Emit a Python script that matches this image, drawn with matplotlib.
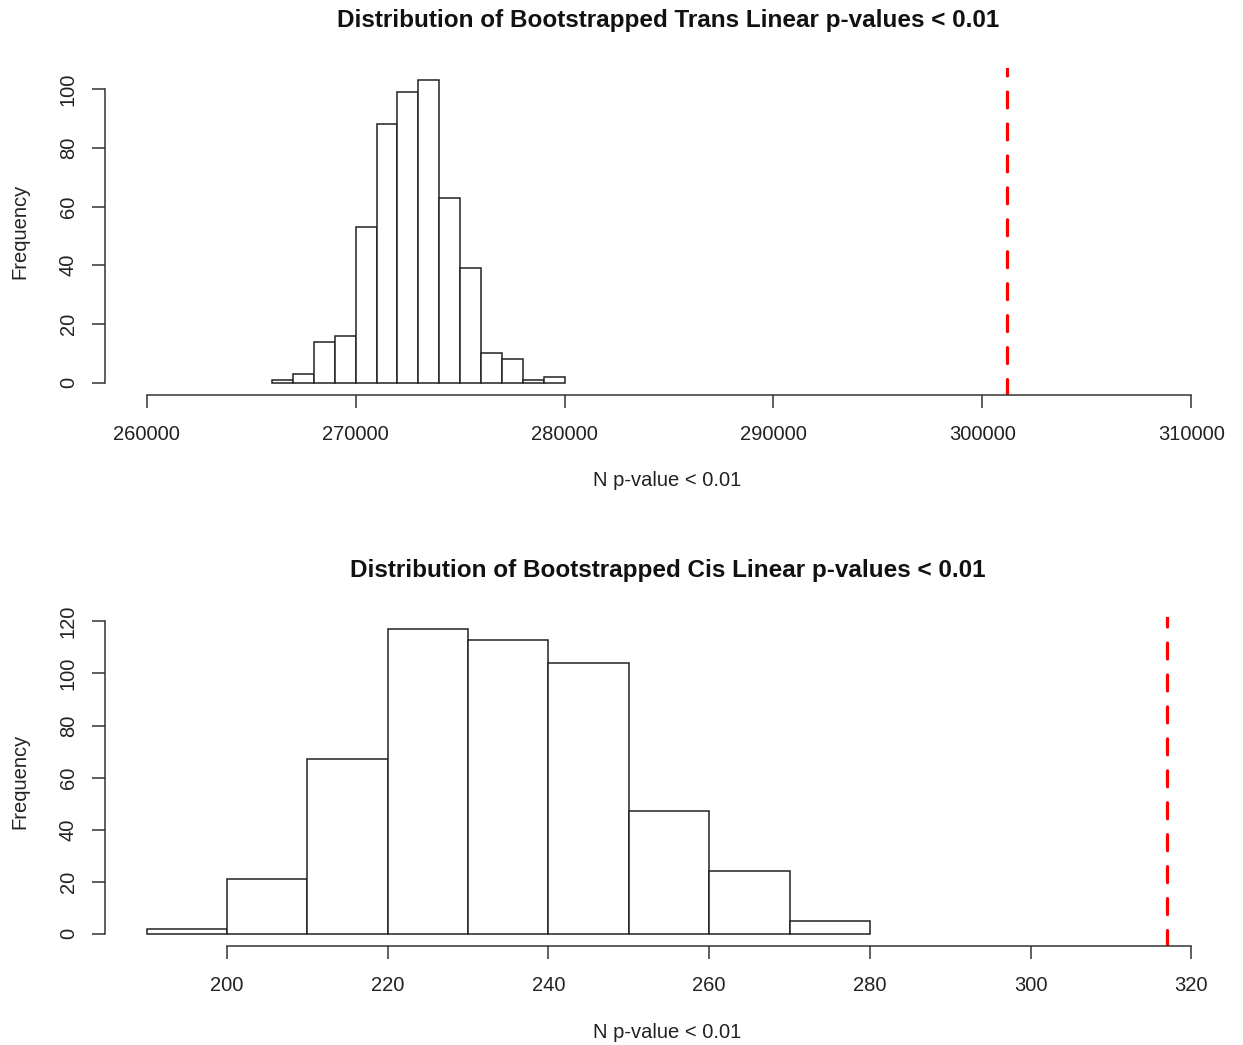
import numpy as np
import matplotlib.pyplot as plt

plt.rcParams['font.family'] = ['Liberation Sans', 'DejaVu Sans']

# bootstrapped counts, trans (bin width 1000)
trans_edges = np.arange(266000, 280001, 1000)
trans_counts = [1, 3, 14, 16, 53, 88, 99, 103, 63, 39, 10, 8, 1, 2]
trans_obs = 301200

# bootstrapped counts, cis (bin width 10)
cis_edges = np.arange(190, 281, 10)
cis_counts = [2, 21, 67, 117, 113, 104, 47, 24, 5]
cis_obs = 317

W, H = 1243, 1045
fig = plt.figure(figsize=(W / 100, H / 100), dpi=100)


def panel(top, bottom, edges, counts, obs, xlim, ylim, xticks, yticks, title, title_y):
    h = bottom - top
    ax = fig.add_axes([105 / W, 1 - bottom / H, 1128 / W, h / H])
    widths = np.diff(edges)
    ax.bar(edges[:-1], counts, width=widths, align='edge', color='white',
           edgecolor='#222222', linewidth=1.1)
    ax.axvline(obs, color='#ff0000', lw=2.3, linestyle=(0, (5, 5)),
               dash_capstyle='round')
    ax.set_xlim(*xlim)
    ax.set_ylim(*ylim)
    for s in ['top', 'right']:
        ax.spines[s].set_visible(False)
    ax.spines['left'].set_bounds(yticks[0], yticks[-1])
    ax.spines['bottom'].set_bounds(xticks[0], xticks[-1])
    for s in ['left', 'bottom']:
        ax.spines[s].set_color('#333333')
        ax.spines[s].set_linewidth(1.1)
    ax.set_xticks(xticks)
    ax.set_yticks(yticks)
    ax.tick_params(axis='both', direction='out', length=9.5, width=1.1,
                   color='#333333', labelsize=14.5, labelcolor='#222222')
    ax.tick_params(axis='x', pad=12)
    ax.tick_params(axis='y', pad=10)
    for lab in ax.get_yticklabels():
        lab.set_rotation(90)
        lab.set_va('center')
    ax.set_xlabel('N p-value < 0.01', fontsize=14.5, color='#222222')
    ax.xaxis.set_label_coords(0.498, -86 / h)
    ax.xaxis.label.set_va('center')
    ax.set_ylabel('Frequency', fontsize=14.5, color='#222222')
    ax.yaxis.set_label_coords(-85 / 1128, 0.5)
    ax.yaxis.label.set_va('center')
    fig.text(668 / W, 1 - title_y / H, title, ha='center', va='center',
             fontsize=17.5, fontweight='bold', color='#111111')
    return ax


panel(68, 395, trans_edges, trans_counts, trans_obs,
      (258000, 312000), (-4.12, 107.12),
      [260000, 270000, 280000, 290000, 300000, 310000],
      [0, 20, 40, 60, 80, 100],
      'Distribution of Bootstrapped Trans Linear p-values < 0.01', 21)

panel(617, 946, cis_edges, cis_counts, cis_obs,
      (184.8, 325.2), (-4.68, 121.68),
      [200, 220, 240, 260, 280, 300, 320],
      [0, 20, 40, 60, 80, 100, 120],
      'Distribution of Bootstrapped Cis Linear p-values < 0.01', 571)

fig.savefig('out.png', dpi=100)
